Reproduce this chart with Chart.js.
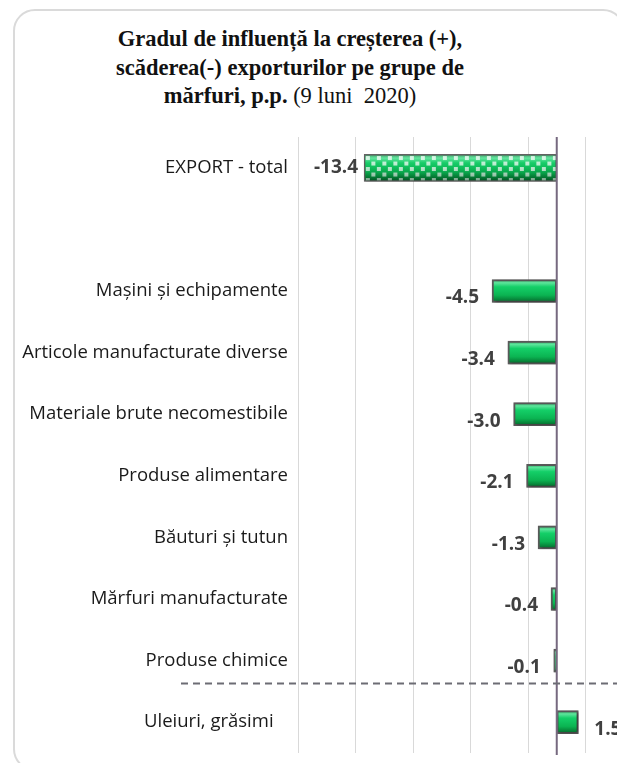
<!DOCTYPE html>
<html>
<head>
<meta charset="utf-8">
<script src="https://cdn.jsdelivr.net/npm/chart.js@4/dist/chart.umd.min.js"></script>
<style>
  html, body { margin: 0; padding: 0; background: #fff; overflow: hidden; width: 617px; height: 763px; }
  .card {
    position: absolute; left: 13px; top: 9px; width: 612px; height: 762px;
    border: 2px solid #dadada; border-radius: 22px; box-sizing: border-box;
  }
  .title {
    position: absolute; left: 0; top: 25px; width: 580px; text-align: center;
    font-family: "Liberation Serif", serif; font-size: 22.5px; line-height: 28.5px; color: #111;
  }
  .title b { font-weight: bold; }
  #chart { position: absolute; left: 0; top: 0; }
</style>
</head>
<body>
<div class="card"></div>
<div class="title">
  <b>Gradul de influență la creșterea (+),</b><br>
  <b>scăderea(-) exporturilor pe grupe de</b><br>
  <b>mărfuri, p.p.</b> (9 luni&nbsp; 2020)
</div>
<canvas id="chart" width="660" height="763"></canvas>
<script>
    const categories = [
        "EXPORT - total",
        "",
        "Mașini și echipamente",
        "Articole manufacturate diverse",
        "Materiale brute necomestibile",
        "Produse alimentare",
        "Băuturi și tutun",
        "Mărfuri manufacturate",
        "Produse chimice",
        "Uleiuri, grăsimi\u00a0\u00a0\u00a0"
    ]

    // total sits in the first row, groups start after the blank row
    const totalValues = [-13.4, null, null, null, null, null, null, null, null, null]
    const groupValues = [null, null, -4.5, -3.4, -3.0, -2.1, -1.3, -0.4, -0.1, 1.5]

    const gridTicks = [-18, -14, -10, -6, -2, 2]

    // green bevel: light top edge, bright middle, darker bottom
    const bevelFill = (context, thickness) => {
        const chart = context.chart
        const yScale = chart.scales.y
        if (!yScale || !chart.chartArea) return '#10b552'
        const cy = yScale.getPixelForValue(context.dataIndex)
        const g = chart.ctx.createLinearGradient(0, cy - thickness / 2, 0, cy + thickness / 2)
        g.addColorStop(0, '#2f9a5b')
        g.addColorStop(0.14, '#5ee59c')
        g.addColorStop(0.32, '#14cf68')
        g.addColorStop(0.68, '#0bb452')
        g.addColorStop(0.86, '#07883b')
        g.addColorStop(1, '#055f28')
        return g
    }

    const barShadow = {
        id: 'barShadow',
        beforeDatasetDraw(chart) {
            const ctx = chart.ctx
            ctx.save()
            ctx.shadowColor = 'rgba(0, 0, 0, 0.45)'
            ctx.shadowBlur = 3
            ctx.shadowOffsetX = 1
            ctx.shadowOffsetY = 1
        },
        afterDatasetDraw(chart) {
            chart.ctx.restore()
        }
    }

    const extras = {
        id: 'extras',
        afterDatasetsDraw(chart) {
            const ctx = chart.ctx
            const { top, bottom } = chart.chartArea
            const x = chart.scales.x
            const y = chart.scales.y

            // checkered overlay on the total bar
            const totalBar = chart.getDatasetMeta(0).data[0]
            if (totalBar) {
                const left = Math.min(totalBar.x, totalBar.base) + 1
                const right = Math.max(totalBar.x, totalBar.base) - 1
                const t = totalBar.y - totalBar.height / 2 + 1
                const b = totalBar.y + totalBar.height / 2 - 1
                ctx.save()
                ctx.beginPath()
                ctx.rect(left, t, right - left, b - t)
                ctx.clip()
                const cell = 5.5
                let row = 0
                for (let yy = t; yy < b; yy += cell, row++) {
                    let col = 0
                    for (let xx = left; xx < right; xx += cell, col++) {
                        if ((row + col) % 2 === 0) {
                            ctx.fillStyle = 'rgba(255, 255, 255, 0.75)'
                            ctx.fillRect(xx + 0.75, yy + 0.75, cell - 1.5, cell - 1.5)
                        }
                    }
                }
                const shade = ctx.createLinearGradient(0, t, 0, b)
                shade.addColorStop(0, 'rgba(255, 255, 255, 0.05)')
                shade.addColorStop(0.5, 'rgba(0, 80, 30, 0.05)')
                shade.addColorStop(1, 'rgba(0, 50, 20, 0.3)')
                ctx.fillStyle = shade
                ctx.fillRect(left, t, right - left, b - t)
                ctx.restore()
            }

            // zero line
            const x0 = x.getPixelForValue(0)
            ctx.save()
            ctx.strokeStyle = '#76697f'
            ctx.lineWidth = 2
            ctx.beginPath()
            ctx.moveTo(x0, top)
            ctx.lineTo(x0, bottom + 2)
            ctx.stroke()

            // dashed separator before the last group
            const yd = y.getPixelForValue(8.37)
            ctx.strokeStyle = '#6c6c74'
            ctx.lineWidth = 2
            ctx.setLineDash([7, 5])
            ctx.beginPath()
            ctx.moveTo(chart.chartArea.left - 117, yd)
            ctx.lineTo(chart.width, yd)
            ctx.stroke()
            ctx.restore()

            // value labels
            ctx.save()
            ctx.font = 'bold 19px "Open Sans"'
            ctx.fillStyle = '#404040'
            ctx.textBaseline = 'middle'
            chart.data.datasets.forEach((ds, di) => {
                chart.getDatasetMeta(di).data.forEach((bar, i) => {
                    const v = ds.data[i]
                    if (v === null || v === undefined) return
                    const txt = v.toFixed(1)
                    if (v < 0) {
                        ctx.textAlign = 'right'
                        ctx.fillText(txt, bar.x - ds.labelGap, bar.y + ds.labelDy)
                    } else {
                        ctx.textAlign = 'left'
                        ctx.fillText(txt, bar.x + ds.labelGap + 3, bar.y + ds.labelDy)
                    }
                })
            })
            ctx.restore()
        }
    }

    new Chart(document.querySelector('#chart'), {
        type: 'bar',
        data: {
            labels: categories,
            datasets: [{
                data: totalValues,
                grouped: false,
                barThickness: 27,
                backgroundColor: (c) => bevelFill(c, 27),
                borderColor: '#666',
                borderWidth: 1.5,
                borderSkipped: false,
                labelGap: 6,
                labelDy: 0
            }, {
                data: groupValues,
                grouped: false,
                barThickness: 23,
                minBarLength: 3,
                backgroundColor: (c) => bevelFill(c, 23),
                borderColor: '#5a5a5a',
                borderWidth: 2,
                borderSkipped: false,
                labelGap: 13,
                labelDy: 7
            }]
        },
        options: {
            indexAxis: 'y',
            responsive: false,
            animation: false,
            layout: {
                padding: { top: 137, bottom: 10, left: 0, right: 17 }
            },
            plugins: {
                legend: { display: false },
                tooltip: { enabled: false }
            },
            scales: {
                x: {
                    min: -18,
                    max: 6,
                    afterBuildTicks: (scale) => {
                        scale.ticks = gridTicks.map(v => ({ value: v }))
                    },
                    afterFit: (scale) => { scale.height = 0 },
                    ticks: { display: false },
                    border: { display: false },
                    grid: { color: '#d9d9d9', lineWidth: 1, drawTicks: false }
                },
                y: {
                    afterFit: (scale) => {
                        scale.width = 298
                        scale.paddingTop = 0
                        scale.paddingBottom = 0
                    },
                    grid: { display: false, drawTicks: false },
                    border: { display: false },
                    ticks: {
                        color: '#1a1a1a',
                        padding: 10,
                        font: { family: 'Open Sans', size: 18.5 }
                    }
                }
            }
        },
        plugins: [barShadow, extras]
    })
</script>
</body>
</html>
